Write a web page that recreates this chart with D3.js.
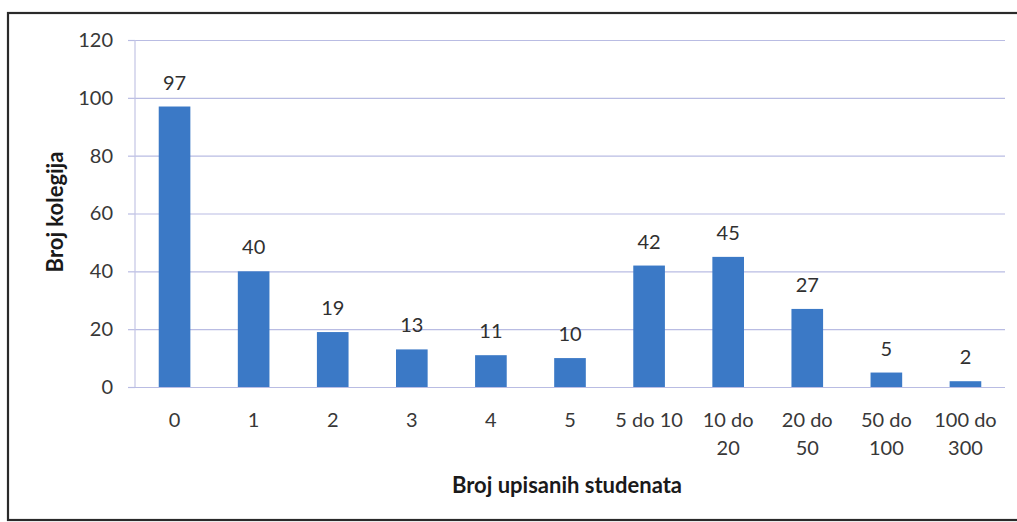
<!DOCTYPE html>
<html>
<head>
<meta charset="utf-8">
<script src="https://cdn.jsdelivr.net/npm/d3@7/dist/d3.min.js"></script>
<style>
  html, body { margin: 0; padding: 0; background: #fff; }
  svg { display: block; }
  text { font-family: Lato, "Open Sans", sans-serif; }
</style>
</head>
<body>
<svg id="chart" width="1017" height="522"></svg>
<script>
// Number of colleges by count of enrolled students
const categories = ["0", "1", "2", "3", "4", "5", "5 do 10", "10 do 20", "20 do 50", "50 do 100", "100 do 300"];
const values = [97, 40, 19, 13, 11, 10, 42, 45, 27, 5, 2];
const yTicks = [0, 20, 40, 60, 80, 100, 120];
const yTitle = "Broj kolegija";
const xTitle = "Broj upisanih studenata";

const svg = d3.select("#chart");
const W = 1017, H = 522;
const plot = { left: 135, right: 1005, top: 40, bottom: 387 };

// Outer frame
svg.append("rect")
  .attr("x", 8).attr("y", 13)
  .attr("width", W + 10).attr("height", 507)
  .attr("fill", "#fff")
  .attr("stroke", "#2a2a2a").attr("stroke-width", 2.2);

const x = d3.scaleBand()
  .domain(categories)
  .range([plot.left, plot.right])
  .paddingInner(0.6)
  .paddingOuter(0.3);

const y = d3.scaleLinear()
  .domain([0, 120])
  .range([plot.bottom, plot.top]);

// Horizontal gridlines and y tick labels
const yAxis = d3.axisLeft(y)
  .tickValues(yTicks)
  .tickSize(-(plot.right - plot.left))
  .tickPadding(22)
  .tickFormat(d3.format("d"));

const gy = svg.append("g")
  .attr("transform", `translate(${plot.left},0)`)
  .call(yAxis);
gy.select(".domain").remove();
gy.selectAll(".tick line")
  .attr("stroke", "#b9bce3").attr("stroke-width", 1.2);
gy.selectAll(".tick text")
  .attr("fill", "#383838").attr("font-size", 20);

// Small outward tick marks on the value axis
gy.selectAll(".tick").append("line")
  .attr("x1", -7).attr("x2", 0)
  .attr("stroke", "#b9bce3").attr("stroke-width", 1.2);

// Value axis line
svg.append("line")
  .attr("x1", plot.left).attr("x2", plot.left)
  .attr("y1", plot.top).attr("y2", plot.bottom)
  .attr("stroke", "#c3c5e4").attr("stroke-width", 1.2);

// Bars
svg.append("g").selectAll("rect")
  .data(values)
  .join("rect")
  .attr("x", (d, i) => x(categories[i]))
  .attr("y", d => y(d))
  .attr("width", x.bandwidth())
  .attr("height", d => y(0) - y(d))
  .attr("fill", "#3b79c6");

// Value labels
svg.append("g").selectAll("text")
  .data(values)
  .join("text")
  .attr("x", (d, i) => x(categories[i]) + x.bandwidth() / 2)
  .attr("y", d => y(d) - 17)
  .attr("text-anchor", "middle")
  .attr("font-size", 20)
  .attr("fill", "#303030")
  .text(d => d);

// Category labels (ranges wrap onto two lines, except the short one)
const gx = svg.append("g");
categories.forEach(c => {
  const cx = x(c) + x.bandwidth() / 2;
  let parts = [c];
  if (c.includes(" do ") && c !== "5 do 10") {
    parts = [c.replace(/ do .*/, " do"), c.replace(/.* do /, "")];
  }
  const t = gx.append("text")
    .attr("x", cx).attr("y", 427)
    .attr("text-anchor", "middle")
    .attr("font-size", 20)
    .attr("fill", "#383838");
  parts.forEach((p, k) => {
    t.append("tspan").attr("x", cx).attr("dy", k === 0 ? 0 : 28).text(p);
  });
});

// Axis titles
svg.append("text")
  .attr("x", 567).attr("y", 493)
  .attr("text-anchor", "middle")
  .attr("font-size", 22).attr("font-weight", "bold")
  .attr("fill", "#1a1a1a")
  .text(xTitle);

svg.append("text")
  .attr("transform", `translate(63,212) rotate(-90)`)
  .attr("text-anchor", "middle")
  .attr("font-size", 22).attr("font-weight", "bold")
  .attr("fill", "#1a1a1a")
  .text(yTitle);
</script>
</body>
</html>
